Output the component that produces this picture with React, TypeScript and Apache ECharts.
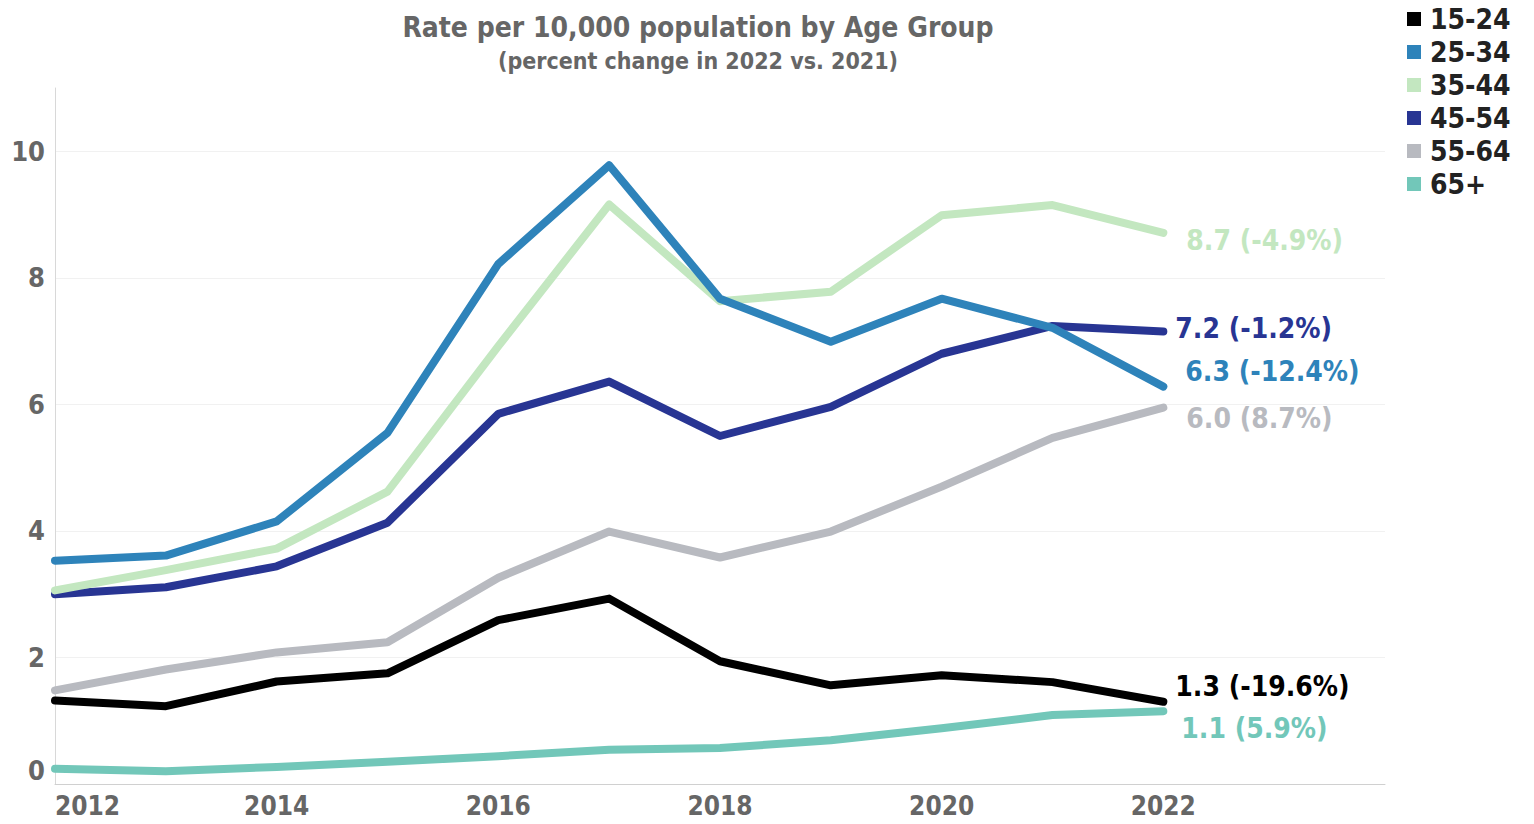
import React, { useEffect, useRef } from "react";
import * as echarts from "echarts";

const years = [2012, 2013, 2014, 2015, 2016, 2017, 2018, 2019, 2020, 2021, 2022];
const groupNames = ["15-24", "25-34", "35-44", "45-54", "55-64", "65+"];
const rate15to24 = [1.32, 1.23, 1.62, 1.75, 2.59, 2.93, 1.94, 1.56, 1.72, 1.61, 1.30];
const rate25to34 = [3.53, 3.61, 4.15, 5.55, 8.22, 9.78, 7.67, 6.99, 7.67, 7.21, 6.28];
const rate35to44 = [3.06, 3.38, 3.72, 4.62, 6.92, 9.16, 7.63, 7.78, 8.99, 9.15, 8.71];
const rate45to54 = [3.0, 3.11, 3.44, 4.13, 5.85, 6.36, 5.5, 5.96, 6.8, 7.24, 7.15];
const rate55to64 = [1.48, 1.81, 2.08, 2.24, 3.26, 3.99, 3.58, 3.99, 4.7, 5.47, 5.95];
const rate65plus = [0.24, 0.2, 0.27, 0.35, 0.44, 0.54, 0.57, 0.69, 0.88, 1.09, 1.15];
const endLabels = ["1.3 (-19.6%)", "6.3 (-12.4%)", "8.7 (-4.9%)", "7.2 (-1.2%)", "6.0 (8.7%)", "1.1 (5.9%)"];
const seriesValues = [rate15to24, rate25to34, rate35to44, rate45to54, rate55to64, rate65plus];

const colors = ["#000000", "#2E83BA", "#C3E7C0", "#283593", "#B8BAC0", "#72C7B9"];
const labelOffsets = [
  [12, -15],
  [22, -15],
  [23, 8],
  [12, -3],
  [23, 11],
  [18, 17],
];

const FONT = "'DejaVu Sans Condensed', 'DejaVu Sans', sans-serif";

export default function App() {
  const ref = useRef<HTMLDivElement>(null);
  useEffect(() => {
    document.body.style.margin = "0";
    const chart = echarts.init(ref.current!, null, { renderer: "svg" });
    chart.setOption({
      animation: false,
      textStyle: { fontFamily: FONT },
      title: {
        text: "Rate per 10,000 population by Age Group",
        subtext: "(percent change in 2022 vs. 2021)",
        left: 693,
        textAlign: "center",
        top: 8,
        itemGap: 8,
        textStyle: { fontFamily: FONT, fontSize: 28, fontWeight: "bold", color: "#666666" },
        subtextStyle: { fontFamily: FONT, fontSize: 23, fontWeight: "bold", color: "#666666" },
      },
      legend: {
        orient: "vertical",
        left: 1402,
        top: 0,
        icon: "rect",
        itemWidth: 14,
        itemHeight: 14,
        itemGap: 5,
        data: groupNames,
        textStyle: { fontFamily: FONT, fontSize: 28, fontWeight: "bold", color: "#222222", lineHeight: 28, padding: [0, 0, 0, 4] },
      },
      grid: { left: 55, right: 149, top: 88, bottom: 40, containLabel: false },
      xAxis: {
        type: "value",
        min: 2012,
        max: 2024,
        interval: 2,
        axisLine: { show: true, lineStyle: { color: "#d0d0d0", width: 1 } },
        axisTick: { show: false },
        splitLine: { show: false },
        axisLabel: {
          margin: 9,
          fontFamily: FONT,
          fontSize: 26,
          fontWeight: "bold",
          color: "#666666",
          alignMinLabel: "left",
          showMaxLabel: false,
          formatter: (v: number) => (v === 2024 ? "" : String(v)),
        },
      },
      yAxis: {
        type: "value",
        min: 0,
        max: 11,
        interval: 2,
        axisLine: { show: true, lineStyle: { color: "#d8d8d8", width: 1 } },
        axisTick: { show: false },
        splitLine: { show: true, showMaxLine: false, lineStyle: { color: "#f1f1f1", width: 1 } },
        axisLabel: {
          margin: 10,
          fontFamily: FONT,
          fontSize: 27,
          fontWeight: "bold",
          color: "#666666",
          showMaxLabel: false,
          verticalAlignMinLabel: "bottom",
          formatter: (v: number) => (v === 11 ? "" : String(v)),
        },
      },
      series: groupNames.map((name, i) => ({
        name,
        type: "line",
        data: years.map((y, j) => [y, seriesValues[i][j]]),
        symbol: "none",
        color: colors[i],
        lineStyle: { color: colors[i], width: 8, cap: "round", join: "round" },
        endLabel: {
          show: true,
          formatter: endLabels[i],
          color: colors[i],
          fontFamily: FONT,
          fontSize: 28,
          fontWeight: "bold",
          distance: 0,
          offset: labelOffsets[i],
        },
        z: 10 - i,
      })),
    });
    return () => chart.dispose();
  }, []);
  return <div ref={ref} style={{ width: 1534, height: 824 }} />;
}
